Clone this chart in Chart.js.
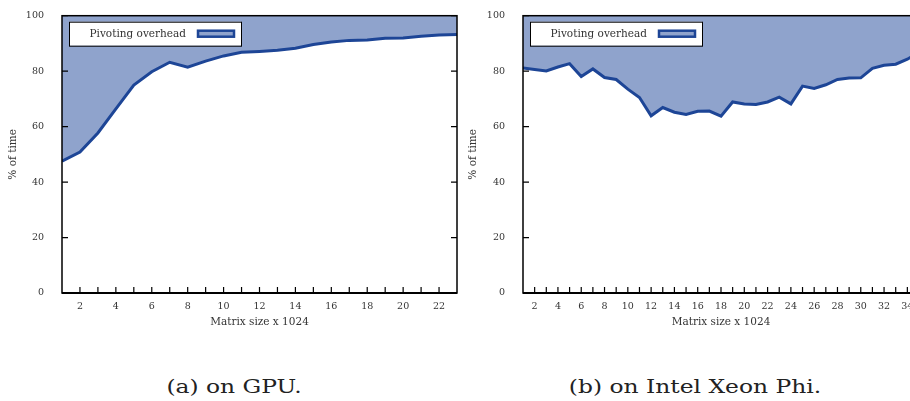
<!DOCTYPE html>
<html lang="en">

<head>
    <meta charset="UTF-8" />
    <title>Pivoting overhead</title>
    <script src="https://cdn.jsdelivr.net/npm/chart.js"></script>
    <style>
        body { margin: 0; width: 910px; height: 401px; overflow: hidden; background: #fff; position: relative; }
        .box_grafico { position: absolute; top: 0; height: 340px; }
        #box_gpu { left: 0; width: 460px; }
        #box_phi { left: 460px; width: 480px; }
        .legenda { position: absolute; top: 375px; font-family: "DejaVu Serif", serif; font-size: 19px; color: #222; transform: translateX(-50%) scaleX(1.23); white-space: nowrap; }
    </style>
</head>

<body>
    <div class="box_grafico" id="box_gpu"><canvas id="grafico_gpu"></canvas></div>
    <div class="box_grafico" id="box_phi"><canvas id="grafico_phi"></canvas></div>
    <div class="legenda" style="left:234px">(a) on GPU.</div>
    <div class="legenda" style="left:695px">(b) on Intel Xeon Phi.</div>
</body>

<script>

    // dados
    var gpu_tamanhos = [1, 2, 3, 4, 5, 6, 7, 8, 9, 10, 11, 12, 13, 14, 15, 16, 17, 18, 19, 20, 21, 22, 23];
    var gpu_overhead = [47.5, 50.8, 57.7, 66.4, 75.0, 79.8, 83.2, 81.4, 83.6, 85.5, 86.8, 87.1, 87.5, 88.3,
        89.6, 90.5, 91.1, 91.2, 91.9, 92.0, 92.6, 93.0, 93.2];

    var phi_tamanhos = [1, 2, 3, 4, 5, 6, 7, 8, 9, 10, 11, 12, 13, 14, 15, 16, 17, 18, 19, 20, 21, 22, 23, 24,
        25, 26, 27, 28, 29, 30, 31, 32, 33, 34, 35];
    var phi_overhead = [81.1, 80.6, 80.1, 81.5, 82.7, 78.1, 80.8, 77.7, 77.0, 73.5, 70.5, 63.9, 66.9, 65.2,
        64.4, 65.5, 65.6, 63.8, 68.9, 68.2, 68.0, 68.9, 70.6, 68.2, 74.6, 73.8, 75.1, 77.0, 77.5, 77.6,
        81.0, 82.1, 82.5, 84.3, 86.8];

    var y_ticks = [0, 20, 40, 60, 80, 100];
    var nome_serie = 'Pivoting overhead';

    var cor_linha = '#1d4596';
    var cor_area = 'rgb(143, 163, 204)';
    var fonte = '"DejaVu Serif", serif';

    // ticks para dentro, borda e legenda no estilo gnuplot
    var moldura = {
        id: 'moldura',
        afterDatasetsDraw: function (chart) {
            var ctx = chart.ctx;
            var a = chart.chartArea;
            var sx = chart.scales.x;
            var sy = chart.scales.y;
            ctx.save();
            ctx.strokeStyle = '#000';
            ctx.lineWidth = 1.2;
            ctx.beginPath();
            for (var i = 0; i < y_ticks.length; i++) {
                var py = sy.getPixelForValue(y_ticks[i]);
                ctx.moveTo(a.left, py); ctx.lineTo(a.left + 6, py);
                ctx.moveTo(a.right, py); ctx.lineTo(a.right - 6, py);
            }
            for (var v = sx.min + 1; v < sx.max; v++) {
                var px = sx.getPixelForValue(v);
                ctx.moveTo(px, a.bottom); ctx.lineTo(px, a.bottom - 6);
            }
            ctx.stroke();
            ctx.lineWidth = 1.5;
            ctx.strokeRect(a.left, a.top, a.right - a.left, a.bottom - a.top);
            ctx.lineWidth = 2;
            ctx.beginPath();
            ctx.moveTo(a.left, a.bottom); ctx.lineTo(a.right, a.bottom);
            ctx.stroke();

            // legenda
            var lx = a.left + 7, ly = a.top + 6;
            ctx.fillStyle = '#fff';
            ctx.fillRect(lx, ly, 172, 24);
            ctx.lineWidth = 1;
            ctx.strokeStyle = '#000';
            ctx.strokeRect(lx + 0.5, ly + 0.5, 172, 24);
            ctx.fillStyle = '#333';
            ctx.font = '10.5px ' + fonte;
            ctx.textAlign = 'right';
            ctx.textBaseline = 'middle';
            ctx.fillText(nome_serie, lx + 117, ly + 12.5);
            ctx.fillStyle = cor_area;
            ctx.strokeStyle = cor_linha;
            ctx.lineWidth = 2.5;
            ctx.fillRect(lx + 129, ly + 9, 36, 6);
            ctx.strokeRect(lx + 129, ly + 9, 36, 6);
            ctx.restore();
        }
    };

    function criar_grafico(id, tamanhos, valores, x_max, esquerda, direita) {
        return new Chart(document.getElementById(id), {
            type: 'line',
            data: {
                labels: tamanhos,
                datasets: [{
                    label: nome_serie,
                    data: valores,
                    borderColor: cor_linha,
                    backgroundColor: cor_area,
                    borderWidth: 3,
                    pointRadius: 0,
                    tension: 0,
                    fill: 'end'
                }]
            },
            options: {
                responsive: true,
                maintainAspectRatio: false,
                animation: false,
                layout: { padding: { left: 0, right: direita, top: 11, bottom: 0 } },
                plugins: { legend: { display: false }, tooltip: { enabled: false } },
                scales: {
                    x: {
                        type: 'linear',
                        min: 1,
                        max: x_max,
                        grid: { display: false },
                        border: { display: false },
                        afterFit: function (scale) { scale.height = 47; },
                        afterBuildTicks: function (scale) {
                            var t = [];
                            for (var v = 2; v < x_max; v += 2) t.push({ value: v });
                            scale.ticks = t;
                        },
                        ticks: {
                            autoSkip: false,
                            maxRotation: 0,
                            padding: 0,
                            color: '#333',
                            font: { family: fonte, size: 9.5 }
                        },
                        title: {
                            display: true,
                            text: 'Matrix size x 1024',
                            color: '#333',
                            padding: { top: 4, bottom: 11 },
                            font: { family: fonte, size: 10.5 }
                        }
                    },
                    y: {
                        min: 0,
                        max: 100,
                        grid: { display: false },
                        border: { display: false },
                        afterFit: function (scale) { scale.width = esquerda; },
                        afterBuildTicks: function (scale) {
                            scale.ticks = y_ticks.map(function (v) { return { value: v }; });
                        },
                        ticks: {
                            padding: 10,
                            color: '#333',
                            font: { family: fonte, size: 9.5 }
                        },
                        title: {
                            display: true,
                            text: '% of time',
                            color: '#333',
                            padding: { top: 7, bottom: 0 },
                            font: { family: fonte, size: 10.5 }
                        }
                    }
                }
            },
            plugins: [moldura]
        });
    }

    criar_grafico('grafico_gpu', gpu_tamanhos, gpu_overhead, 23, 62, 3);
    criar_grafico('grafico_phi', phi_tamanhos, phi_overhead, 35, 63, 21);

</script>

</html>
